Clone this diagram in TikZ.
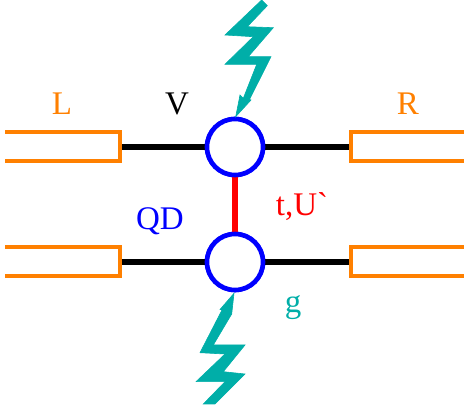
\documentclass[tikz,border=0pt]{standalone}
\usepackage{fontspec}
\setmainfont{Liberation Serif}
\usepackage{xcolor}
\usepackage{tikz}
\definecolor{myorange}{RGB}{255,128,0}
\definecolor{myteal}{RGB}{0,174,168}
\definecolor{myblue}{RGB}{0,0,255}
\definecolor{myred}{RGB}{255,0,0}
\tikzset{
  lead/.style={draw=myorange, line width=4pt, miter limit=10},
  wire/.style={black, line width=5.4pt},
  dot/.style={circle, draw=myblue, fill=white, minimum size=56pt, inner sep=0pt, line width=4.6pt},
  link/.style={myred, line width=6pt},
  bolt/.style={fill=myteal, draw=myteal, line width=0.6pt, line join=miter},
  lab/.style={anchor=base, inner sep=0pt, font=\fontsize{33}{33}\selectfont}
}
\begin{document}
\begin{tikzpicture}[x=1pt,y=-1pt]
  \useasboundingbox (0,0) rectangle (464,414);
  % dots
  \node[dot] (dotU) at (235,147) {};
  \node[dot] (dotD) at (235,262) {};
  % leads
  \foreach \n/\y in {UL/147,DL/262} {
    \draw[lead] (5,\y-14.5) -- (120,\y-14.5) -- (120,\y+14.5) -- (5,\y+14.5);
    \coordinate (lead\n) at (122,\y);
  }
  \foreach \n/\y in {UR/147,DR/262} {
    \draw[lead] (464,\y-14.5) -- (351,\y-14.5) -- (351,\y+14.5) -- (464,\y+14.5);
    \coordinate (lead\n) at (349,\y);
  }
  % wires
  \draw[wire] (leadUL) -- (dotU);
  \draw[wire] (dotU) -- (leadUR);
  \draw[wire] (leadDL) -- (dotD);
  \draw[wire] (dotD) -- (leadDR);
  \draw[link] (dotU) -- (dotD);
  % redraw dots above the wires
  \node[dot] at (dotU) {};
  \node[dot] at (dotD) {};
  % bolts
  \filldraw[bolt] (261.7,0) -- (225,35) -- (253.3,36.7) -- (225,64.3) -- (256.7,64.3) -- (243.3,98.3)
    -- (240,95) -- (235.7,116.7) -- (251,100) -- (249.5,99.5) -- (271,56.7) -- (248.3,56.7)
    -- (273.3,27.7) -- (247.3,26.7) -- (267.3,5.7) -- cycle;
  \filldraw[bolt] (234,293.3) -- (220,309.5) -- (222,310) -- (200,352.7) -- (225,354) -- (196,381.7)
    -- (225,381.7) -- (203.3,404) -- (215,404) -- (245,374) -- (223.3,371.7) -- (245,345)
    -- (213.3,345) -- (231.7,314) -- cycle;
  % labels
  \node[lab, myorange] (labL) at (62,115) {L};
  \node[lab, black] (labV) at (177,115) {V};
  \node[lab, myorange] (labR) at (408,115) {R};
  \node[lab, myblue] (labQD) at (160,230) {QD};
  \node[lab, myred] (labT) at (302,216) {t,U\textasciigrave};
  \node[lab, myteal] (labG) at (293,313) {g};
\end{tikzpicture}
\end{document}
